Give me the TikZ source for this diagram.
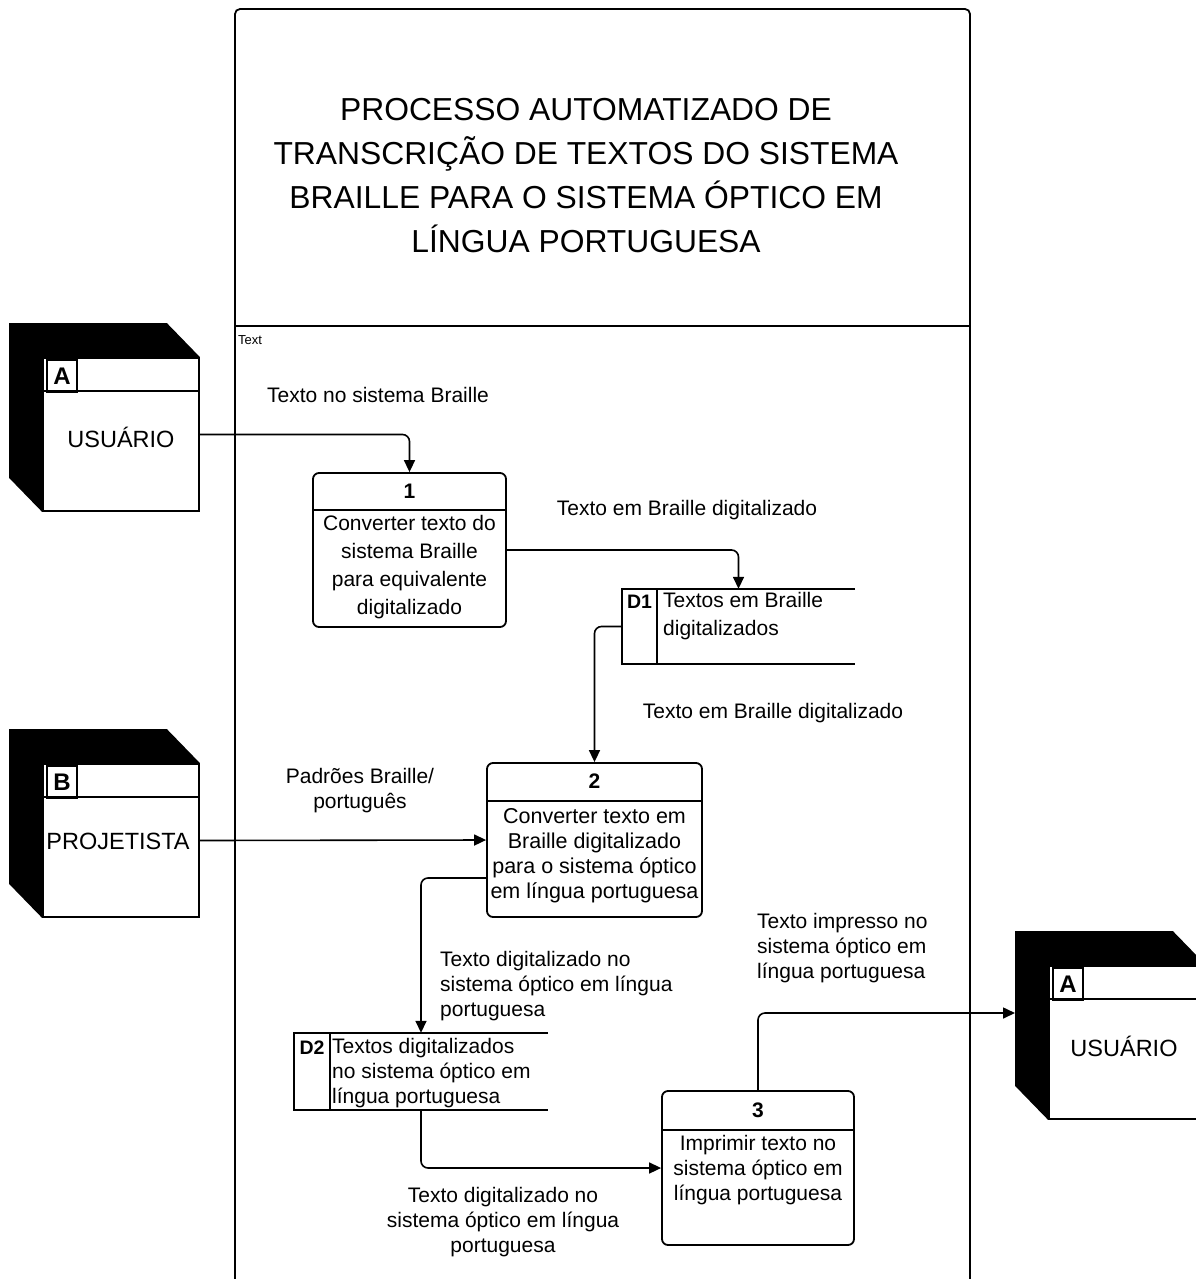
\documentclass[tikz,border=0pt]{standalone}
\usepackage{fontspec}
\setmainfont{Liberation Sans}
\usetikzlibrary{arrows.meta,calc}
\pgfdeclarelayer{bg}
\pgfsetlayers{bg,main}
\begin{document}
\begin{tikzpicture}[x=1pt,y=-1pt,
  box/.style={draw, line width=1.8pt},
  ent/.style={draw, line width=1.8pt, fill=white, minimum width=156pt, minimum height=153pt, inner sep=0pt},
  idbox/.style={draw, line width=1.7pt, minimum width=30pt, minimum height=32pt, inner sep=0pt, font=\fontsize{24}{26}\selectfont\bfseries},
  enttxt/.style={inner sep=0pt, font=\fontsize{23.5}{26}\selectfont},
  proc/.style={draw, line width=1.8pt, rounded corners=6pt, minimum height=154pt, inner sep=0pt},
  num/.style={inner sep=0pt, font=\fontsize{21}{24}\selectfont\bfseries},
  store/.style={inner sep=0pt},
  sid/.style={inner sep=0pt, font=\fontsize{19.5}{22}\selectfont\bfseries},
  flow/.style={line width=1.6pt, rounded corners=7pt, -{Triangle[length=12pt,width=11pt]}},
  lbl/.style={inner sep=0pt, font=\fontsize{21}{25}\selectfont},
]
\useasboundingbox (0,0) rectangle (1196,1279);

% frame
\draw[box, rounded corners=5pt] (235,1300) -- (235,9) -- (970,9) -- (970,1300);
\draw[box] (235,326) -- (970,326);
\node[anchor=west, inner sep=0pt, font=\fontsize{13}{15}\selectfont] (frametxt) at (238,340) {Text};
\node[inner sep=0pt, align=center, font=\fontsize{31.8}{44}\selectfont] (title) at (586,176)
  {PROCESSO AUTOMATIZADO DE\\TRANSCRIÇÃO DE TEXTOS DO SISTEMA\\BRAILLE PARA O SISTEMA ÓPTICO EM\\LÍNGUA PORTUGUESA};

% external entities
\node[ent] (eA) at (121,434.5) {};
\node[ent] (eB) at (121,840.5) {};
\node[ent] (eA2) at (1127,1042.5) {};
\begin{pgfonlayer}{bg}
\foreach \e in {eA,eB,eA2}{
  \fill ($(\e.north west)+(-33,-34)$) -- ($(\e.north east)+(-33,-34)$) -- (\e.north east)
     -- (\e.north west) -- (\e.south west) -- ($(\e.south west)+(-33,-34)$) -- cycle;
}
\end{pgfonlayer}
\foreach \e/\l in {eA/A,eB/B,eA2/A}{
  \draw[box] ($(\e.north west)+(0,34)$) -- ($(\e.north east)+(0,34)$);
  \node[idbox, anchor=north west] (\e id) at ($(\e.north west)+(4,2)$) {\l};
}
\node[enttxt] (eAt) at ($(eA.center)+(0,3)$) {USUÁRIO};
\node[enttxt] (eBt) at ($(eB.center)+(-3,1)$) {PROJETISTA};
\node[enttxt] (eA2t) at ($(eA2.center)+(-3,4)$) {USUÁRIO};

% processes
\node[proc, minimum width=193pt] (p1) at (409.5,550) {};
\draw[box] ($(p1.north west)+(0,38)$) -- ($(p1.north east)+(0,38)$);
\node[num] (p1n) at ($(p1.north)+(0,19)$) {1};
\node[lbl, align=center, font=\fontsize{21}{28}\selectfont] (p1t) at (409.5,567)
  {Converter texto do\\sistema Braille\\para equivalente\\digitalizado};

\node[proc, minimum width=215pt] (p2) at (594.5,840) {};
\draw[box] ($(p2.north west)+(0,39)$) -- ($(p2.north east)+(0,39)$);
\node[num] (p2n) at ($(p2.north)+(0,19.5)$) {2};
\node[lbl, align=center, font=\fontsize{21.5}{25}\selectfont] (p2t) at (594.5,856)
  {Converter texto em\\Braille digitalizado\\para o sistema óptico\\em língua portuguesa};

\node[proc, minimum width=192pt] (p3) at (758,1168) {};
\draw[box] ($(p3.north west)+(0,40)$) -- ($(p3.north east)+(0,40)$);
\node[num] (p3n) at ($(p3.north)+(0,20)$) {3};
\node[lbl, align=center] (p3t) at (758,1170)
  {Imprimir texto no\\sistema óptico em\\língua portuguesa};

% data stores
\node[store, minimum width=233pt, minimum height=75pt] (d1) at (738.5,626.5) {};
\draw[box] (d1.north east) -- (d1.north west) -- (d1.south west) -- (d1.south east);
\draw[box] ($(d1.north west)+(35,0)$) -- ($(d1.south west)+(35,0)$);
\node[sid] (d1id) at (639.5,602) {D1};
\node[lbl, anchor=west, align=left, font=\fontsize{21}{28}\selectfont] (d1t) at (663,616)
  {Textos em Braille\\digitalizados};

\node[store, minimum width=254pt, minimum height=77pt] (d2) at (421,1071.5) {};
\draw[box] (d2.north east) -- (d2.north west) -- (d2.south west) -- (d2.south east);
\draw[box] ($(d2.north west)+(36,0)$) -- ($(d2.south west)+(36,0)$);
\node[sid] (d2id) at (312,1048) {D2};
\node[lbl, anchor=west, align=left] (d2t) at (332,1073)
  {Textos digitalizados\\no sistema óptico em\\língua portuguesa};

% flows
\coordinate (a2in) at (1015,1013);
\draw[flow] (eA.east) -| (p1.north);
\draw[flow] (p1.east) -| (d1.north);
\draw[flow] (d1.west) -| (p2.north);
\draw[flow] (eB.east) -- (p2.west);
\draw[flow] ([yshift=-38pt]p2.west) -| (d2.north);
\draw[flow] (d2.south) |- (p3.west);
\draw[flow] (p3.north) |- (a2in);

% flow labels
\node[lbl] (l1) at (378,395) {Texto no sistema Braille};
\node[lbl] (l2) at (687,510) {Texto em Braille digitalizado};
\node[lbl] (l3) at (773,713) {Texto em Braille digitalizado};
\node[lbl, align=center] (l4) at (360,790.5) {Padrões Braille/\\português};
\node[lbl, anchor=west, align=left] (l5) at (440,986.5) {Texto digitalizado no\\sistema óptico em língua\\portuguesa};
\node[lbl, align=center] (l6) at (503,1222.5) {Texto digitalizado no\\sistema óptico em língua\\portuguesa};
\node[lbl, anchor=west, align=left] (l7) at (757,948) {Texto impresso no\\sistema óptico em\\língua portuguesa};
\end{tikzpicture}
\end{document}
